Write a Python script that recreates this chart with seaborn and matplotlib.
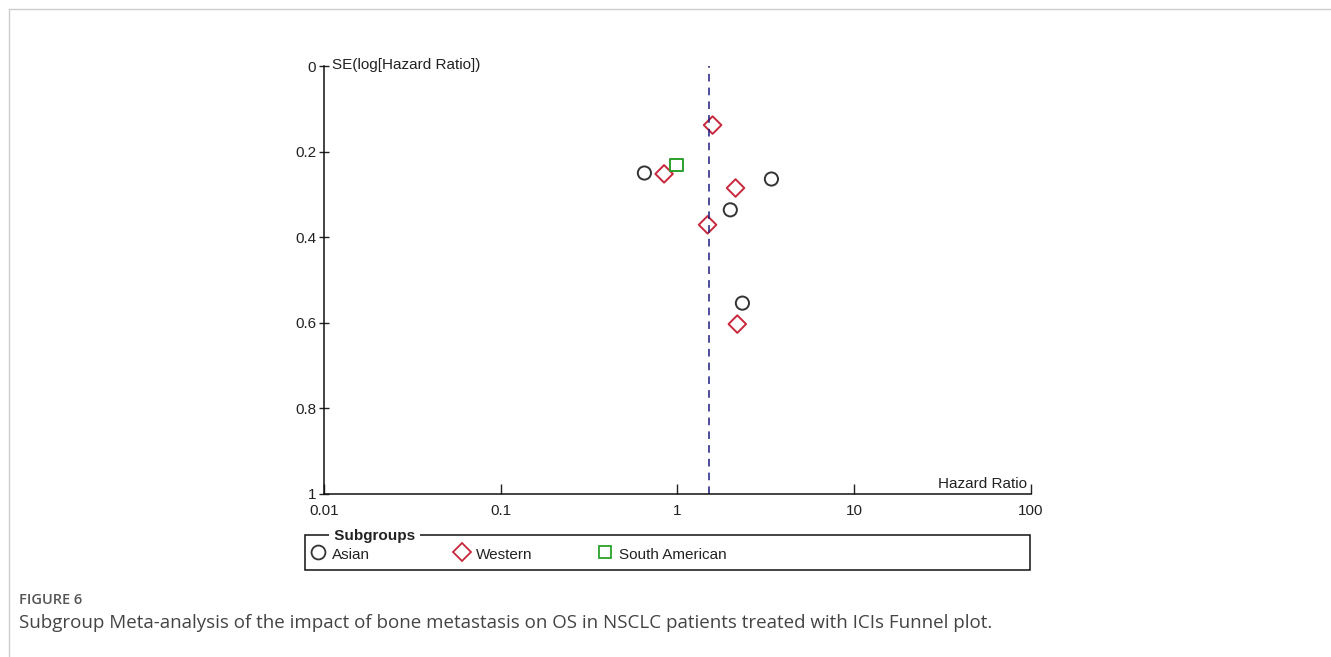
import numpy as np
import pandas as pd
import matplotlib
matplotlib.use("Agg")
import matplotlib.pyplot as plt
import seaborn as sns
from matplotlib.lines import Line2D
from matplotlib.patches import Rectangle

# Study-level values
asian_hr = [0.65, 3.40, 1.99, 2.33]
asian_se = [0.250, 0.264, 0.336, 0.554]
western_hr = [1.58, 0.84, 2.13, 1.48, 2.18]
western_se = [0.138, 0.252, 0.285, 0.371, 0.603]
southam_hr = [0.99]
southam_se = [0.231]
pooled_hr = 1.50

groups = ["Asian", "Western", "South American"]
markers = {"Asian": "o", "Western": "D", "South American": "s"}
colors = {"Asian": "#333333", "Western": "#c8283c", "South American": "#2ca02c"}
sizes = {"Asian": 90, "Western": 80, "South American": 80}

df = pd.concat([
    pd.DataFrame({"hr": asian_hr, "se": asian_se, "group": "Asian"}),
    pd.DataFrame({"hr": western_hr, "se": western_se, "group": "Western"}),
    pd.DataFrame({"hr": southam_hr, "se": southam_se, "group": "South American"}),
])

sns.set_style("white")
plt.rcParams["font.family"] = ["Liberation Sans", "DejaVu Sans"]

fig = plt.figure(figsize=(13.31, 6.57), dpi=100)
ax = fig.add_axes([0.2434, 0.2481, 0.5312, 0.6514])

for g in groups:
    sub = df[df["group"] == g]
    sns.scatterplot(data=sub, x="hr", y="se", ax=ax, marker=markers[g], s=sizes[g],
                    facecolor="none", edgecolor=colors[g], linewidth=1.4, legend=False)

ax.axvline(pooled_hr, color="#1c1c80", linestyle=(0, (5, 4)), linewidth=1.1)

ax.set_xscale("log")
ax.set_xlim(0.01, 100)
ax.set_ylim(1, 0)
ax.set_xticks([0.01, 0.1, 1, 10, 100])
ax.set_xticklabels(["0.01", "0.1", "1", "10", "100"])
ax.set_xticks([], minor=True)
ax.set_yticks([0, 0.2, 0.4, 0.6, 0.8, 1])
ax.set_yticklabels(["0", "0.2", "0.4", "0.6", "0.8", "1"])
ax.tick_params(axis="y", left=True, direction="inout", length=7, width=1, labelsize=11, pad=2,
               colors="#222222")
ax.tick_params(axis="x", bottom=True, direction="in", length=7, width=1, labelsize=11, pad=7,
               colors="#222222")
ax.set_xlabel("")
ax.set_ylabel("")
for s in ["top", "right"]:
    ax.spines[s].set_visible(False)
for s in ["left", "bottom"]:
    ax.spines[s].set_color("#111111")
    ax.spines[s].set_linewidth(1.1)

ax.text(0.012, 0.985, "SE(log[Hazard Ratio])", transform=ax.transAxes,
        fontsize=11, ha="left", va="bottom", color="#222222")
ax.text(0.995, 0.008, "Hazard Ratio", transform=ax.transAxes,
        fontsize=11, ha="right", va="bottom", color="#222222")

# legend box drawn in figure pixels
W, H = 1331, 657
def fx(px):
    return px / W
def fy(py):
    return 1 - py / H

fig.patches.append(Rectangle((fx(305), fy(570)), fx(1030) - fx(305), fy(535) - fy(570),
                             transform=fig.transFigure, fill=False, edgecolor="#111111", linewidth=1.1))
fig.text(fx(330), fy(536), " Subgroups ", fontsize=11, fontweight="bold", ha="left", va="center",
         color="#222222", bbox=dict(facecolor="white", edgecolor="none", pad=0.5))
entries = [(318, "Asian"), (462, "Western"), (605, "South American")]
for px, g in entries:
    ms = 10 if g == "Asian" else 9
    fig.lines.append(Line2D([fx(px)], [fy(552)], transform=fig.transFigure, marker=markers[g],
                            markersize=ms, markerfacecolor="none", markeredgecolor=colors[g],
                            markeredgewidth=1.3, linestyle="none"))
    fig.text(fx(px + 14), fy(555), g, fontsize=11, ha="left", va="center", color="#222222")

# outer frame lines
fig.lines.append(Line2D([fx(9), fx(9)], [0, fy(9)], transform=fig.transFigure, color="#cccccc", linewidth=1))
fig.lines.append(Line2D([fx(9), 1], [fy(9), fy(9)], transform=fig.transFigure, color="#cccccc", linewidth=1))

fig.text(fx(19), fy(600), "FIGURE 6", fontsize=10.5, fontweight="semibold", color="#555555",
         ha="left", va="center", family=["Open Sans", "DejaVu Sans"])
fig.text(fx(19), fy(623), "Subgroup Meta-analysis of the impact of bone metastasis on OS in NSCLC patients treated with ICIs Funnel plot.",
         fontsize=13.5, color="#444444", ha="left", va="center", family=["Open Sans", "DejaVu Sans"])

fig.savefig("out.png", dpi=100)
